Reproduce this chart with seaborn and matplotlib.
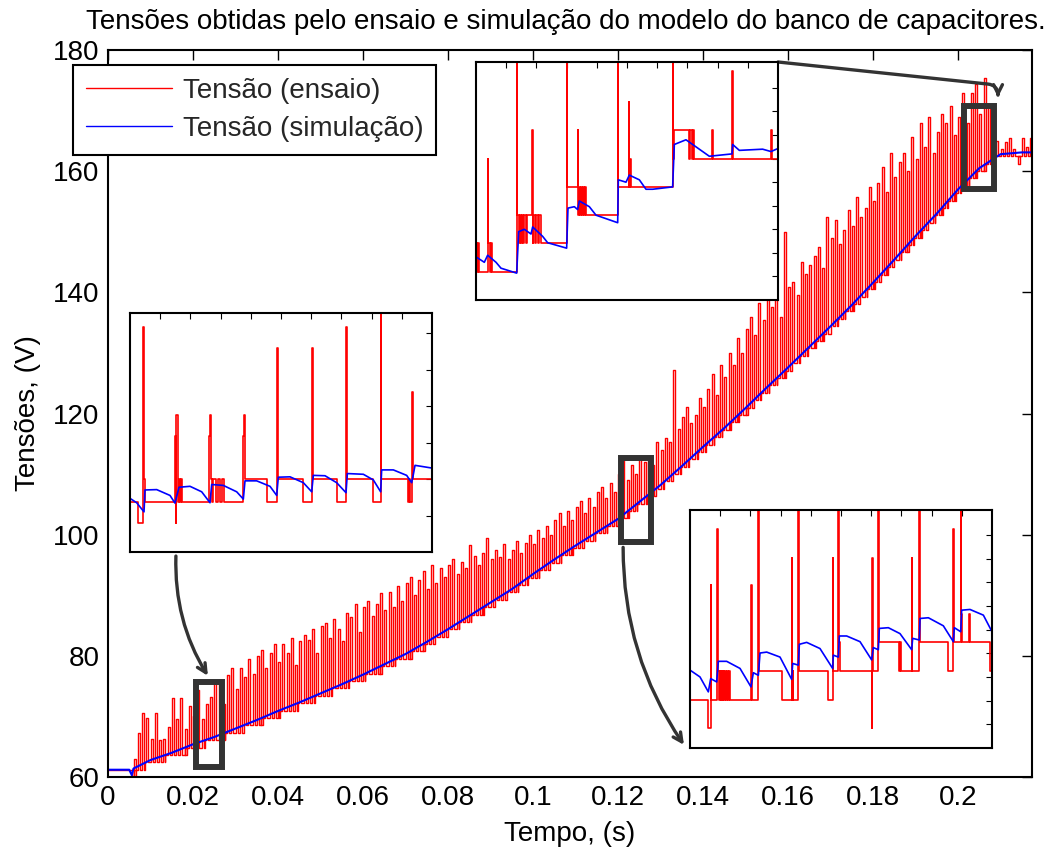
import numpy as np
import matplotlib
matplotlib.use("Agg")
import matplotlib.pyplot as plt
import seaborn as sns
from matplotlib.patches import Rectangle

# ---------------- dados ----------------
# Tensão simulada (curva azul), tempo em s
tempo_sim = [0.0, 0.005, 0.0056, 0.006, 0.010, 0.015, 0.020, 0.025, 0.030, 0.035,
             0.040, 0.045, 0.050, 0.055, 0.060, 0.065, 0.070, 0.075, 0.080, 0.085,
             0.090, 0.095, 0.100, 0.105, 0.110, 0.115, 0.120, 0.125, 0.130, 0.135,
             0.140, 0.145, 0.150, 0.155, 0.160, 0.165, 0.170, 0.175, 0.180, 0.185,
             0.190, 0.195, 0.200, 0.205, 0.210, 0.215, 0.2175]
tensao_sim = [61.2, 61.2, 60.3, 61.4, 62.8, 64.0, 65.4, 66.6, 68.0, 69.4,
              70.9, 72.3, 73.8, 75.3, 76.9, 78.6, 80.3, 82.3, 84.4, 86.6,
              88.8, 91.0, 93.5, 95.9, 98.2, 100.4, 102.6, 105.4, 108.2, 111.3,
              114.5, 117.6, 120.9, 124.3, 127.6, 131.0, 134.4, 137.9, 141.6, 145.4,
              149.3, 153.0, 157.0, 160.5, 162.8, 163.1, 163.1]

# Ensaio: níveis quantizados da base (instantes de mudança e nível)
degrau_t = [0.0, 0.0057, 0.0062, 0.0088, 0.0135, 0.0181, 0.0228, 0.0275, 0.0319, 0.0361,
            0.0402, 0.0446, 0.0487, 0.0527, 0.0567, 0.0605, 0.0641, 0.0676, 0.0711, 0.0741,
            0.0770, 0.0800, 0.0827, 0.0855, 0.0883, 0.0910, 0.0938, 0.0964, 0.0988, 0.1013,
            0.1039, 0.1065, 0.1091, 0.1119, 0.1146, 0.1174, 0.1201, 0.1223, 0.1245, 0.1267,
            0.1289, 0.1309, 0.1329, 0.1349, 0.1368, 0.1387, 0.1406, 0.1426, 0.1445, 0.1464,
            0.1483, 0.1501, 0.1519, 0.1537, 0.1555, 0.1574, 0.1592, 0.1610, 0.1628, 0.1646,
            0.1664, 0.1682, 0.1700, 0.1717, 0.1735, 0.1752, 0.1769, 0.1785, 0.1802, 0.1818,
            0.1834, 0.1850, 0.1865, 0.1881, 0.1897, 0.1913, 0.1929, 0.1946, 0.1962, 0.1977,
            0.1992, 0.2008, 0.2026, 0.2043, 0.2062, 0.2083, 0.2142, 0.2146]
degrau_v = [61.20, 59.98, 61.20, 62.42, 63.64, 64.86, 66.08, 67.30, 68.52, 69.74,
            70.96, 72.18, 73.40, 74.62, 75.84, 77.06, 78.28, 79.50, 80.72, 81.94,
            83.16, 84.38, 85.60, 86.82, 88.04, 89.26, 90.48, 91.70, 92.92, 94.14,
            95.36, 96.58, 97.80, 99.02, 100.24, 101.46, 102.68, 103.90, 105.12, 106.34,
            107.56, 108.78, 110.00, 111.22, 112.44, 113.66, 114.88, 116.10, 117.32, 118.54,
            119.76, 120.98, 122.20, 123.42, 124.64, 125.86, 127.08, 128.30, 129.52, 130.74,
            131.96, 133.18, 134.40, 135.62, 136.84, 138.06, 139.28, 140.50, 141.72, 142.94,
            144.16, 145.38, 146.60, 147.82, 149.04, 150.26, 151.48, 152.70, 153.92, 155.14,
            156.36, 157.58, 158.80, 160.02, 161.24, 162.46, 161.24, 162.46]

# Ensaio: picos (um a cada 1 ms, de 6 ms a 217 ms) - valor de topo de cada pico
pico_t = np.arange(6, 218) / 1000.0
pico_v = [63.0, 67.3, 70.6, 69.7, 66.2, 70.6, 66.1, 66.3, 68.2, 73.0,
          69.5, 73.0, 68.0, 71.8, 70.0, 74.3, 69.5, 72.0, 73.2, 75.5,
          76.0, 72.0, 76.8, 78.0, 74.5, 78.0, 76.5, 79.5, 77.0, 80.0,
          81.0, 78.0, 80.5, 82.0, 79.0, 82.0, 80.5, 83.0, 78.5, 82.5,
          83.5, 82.6, 84.5, 80.5, 85.0, 85.5, 83.0, 86.0, 84.5, 82.5,
          87.0, 86.4, 88.5, 84.0, 88.0, 89.0, 86.5, 88.5, 90.4, 87.5,
          90.5, 88.0, 91.5, 89.0, 92.0, 93.0, 90.0, 92.5, 94.0, 91.0,
          95.0, 92.0, 94.5, 93.0, 95.0, 96.0, 93.5, 95.5, 94.5, 98.3,
          96.5, 95.0, 97.0, 99.4, 96.0, 97.5, 96.3, 98.5, 96.0, 97.5,
          99.0, 97.0, 98.6, 100.0, 98.5, 100.7, 99.5, 101.5, 100.0, 102.5,
          103.5, 101.5, 103.9, 102.5, 104.5, 105.5, 103.5, 106.0, 104.5, 107.0,
          107.9, 106.0, 108.5, 107.0, 110.0, 112.3, 109.0, 111.5, 110.0, 112.5,
          112.0, 113.0, 111.5, 115.3, 114.0, 116.0, 115.3, 127.2, 117.5, 119.5,
          121.0, 118.5, 119.7, 122.5, 121.0, 124.0, 126.5, 123.0, 128.0, 126.0,
          130.0, 128.0, 132.5, 130.0, 134.0, 136.0, 133.0, 138.2, 135.5, 139.0,
          137.5, 140.0, 136.0, 150.0, 140.9, 141.7, 139.5, 145.0, 143.0, 144.5,
          146.0, 147.5, 144.0, 152.4, 149.0, 152.0, 148.0, 150.3, 153.6, 151.0,
          155.7, 152.5, 154.0, 157.4, 155.0, 158.0, 160.7, 156.5, 163.0, 159.0,
          161.5, 163.0, 160.0, 165.6, 162.0, 167.9, 164.0, 168.9, 163.0, 166.5,
          169.5, 167.9, 170.7, 166.0, 169.0, 172.9, 168.0, 172.9, 174.4, 169.5,
          175.4, 171.0, 164.0, 165.0, 163.7, 164.8, 165.4, 163.6, 162.5, 165.4,
          164.0, 165.4]

# Detalhes ampliados (tempo em ms, tensão em V)
insetA_ensaio = [(20.700, 64.76), (20.868, 64.76), (20.868, 63.57), (20.969, 63.57), (20.969, 74.35),
                 (20.983, 74.35), (20.983, 65.98), (21.010, 65.98), (21.010, 64.76), (21.609, 64.76),
                 (21.609, 68.36), (21.622, 68.36), (21.622, 63.57), (21.636, 63.57), (21.636, 69.50),
                 (21.663, 69.50), (21.663, 64.76), (21.690, 64.76), (21.690, 65.98), (21.710, 65.98),
                 (21.710, 64.76), (21.730, 64.76), (21.730, 65.98), (21.750, 65.98), (21.750, 64.76),
                 (22.302, 64.76), (22.302, 68.36), (22.316, 68.36), (22.316, 69.50), (22.329, 69.50),
                 (22.329, 65.98), (22.356, 65.98), (22.356, 64.76), (22.383, 64.76), (22.383, 65.98),
                 (22.430, 65.98), (22.430, 64.76), (22.470, 64.76), (22.470, 65.98), (22.520, 65.98),
                 (22.520, 64.76), (22.560, 64.76), (22.560, 65.98), (22.600, 65.98), (22.600, 64.76),
                 (22.989, 64.76), (22.989, 68.36), (23.002, 68.36), (23.002, 69.50), (23.016, 69.50),
                 (23.016, 65.98), (23.460, 65.98), (23.460, 64.76), (23.662, 64.76), (23.662, 73.16),
                 (23.683, 73.16), (23.683, 65.98), (24.201, 65.98), (24.201, 64.76), (24.370, 64.76),
                 (24.370, 73.16), (24.390, 73.16), (24.390, 65.98), (24.875, 65.98), (24.875, 64.76),
                 (25.063, 64.76), (25.063, 74.35), (25.083, 74.35), (25.083, 65.98), (25.615, 65.98),
                 (25.615, 64.76), (25.763, 64.76), (25.763, 76.00), (25.776, 76.00), (25.776, 65.98),
                 (26.322, 65.98), (26.322, 64.76), (26.340, 64.76), (26.340, 65.98), (26.360, 65.98),
                 (26.360, 64.76), (26.389, 64.76), (26.389, 69.50), (26.402, 69.50), (26.402, 70.78),
                 (26.423, 70.78), (26.423, 65.98), (26.800, 65.98)]
insetA_sim = [(20.700, 64.94), (20.835, 64.70), (20.983, 64.20), (21.003, 65.40), (21.239, 65.42),
              (21.508, 65.10), (21.609, 64.68), (21.643, 65.05), (21.690, 65.55), (21.912, 65.60),
              (22.148, 65.30), (22.316, 64.70), (22.350, 65.70), (22.585, 65.65), (22.855, 65.30),
              (22.989, 64.90), (23.023, 65.90), (23.259, 65.90), (23.528, 65.60), (23.663, 65.10),
              (23.696, 66.10), (23.932, 66.12), (24.201, 65.80), (24.370, 65.30), (24.403, 66.20),
              (24.639, 66.18), (24.874, 65.80), (25.063, 65.25), (25.090, 66.30), (25.413, 66.26),
              (25.615, 65.95), (25.763, 65.30), (25.783, 66.50), (26.019, 66.50), (26.288, 66.20),
              (26.389, 65.80), (26.423, 66.25), (26.457, 66.75), (26.800, 66.60)]

insetB_ensaio = [(201.500, 158.4), (201.530, 158.4), (201.530, 157.2), (201.550, 157.2), (201.550, 158.4),
                 (201.580, 158.4), (201.580, 157.2), (201.770, 157.2), (201.770, 162.0), (201.785, 162.0),
                 (201.785, 158.4), (201.820, 158.4), (201.820, 157.2), (201.850, 157.2), (201.850, 158.4),
                 (201.880, 158.4), (201.880, 157.2), (202.443, 157.2), (202.443, 167.0), (202.458, 167.0),
                 (202.458, 159.6), (202.490, 159.6), (202.490, 158.4), (202.510, 158.4), (202.510, 159.6),
                 (202.540, 159.6), (202.540, 158.4), (202.560, 158.4), (202.560, 159.6), (202.600, 159.6),
                 (202.600, 158.4), (202.620, 158.4), (202.620, 159.6), (202.660, 159.6), (202.660, 158.4),
                 (202.680, 158.4), (202.680, 159.6), (202.798, 159.6), (202.798, 163.2), (202.812, 163.2),
                 (202.812, 158.4), (202.830, 158.4), (202.830, 159.6), (202.870, 159.6), (202.870, 158.4),
                 (202.900, 158.4), (202.900, 159.6), (202.940, 159.6), (202.940, 158.4), (202.960, 158.4),
                 (202.960, 159.6), (203.000, 159.6), (203.000, 158.4), (203.601, 158.4), (203.601, 167.0),
                 (203.615, 167.0), (203.615, 160.8), (203.856, 160.8), (203.856, 163.2), (203.870, 163.2),
                 (203.870, 159.6), (203.890, 159.6), (203.890, 160.8), (203.910, 160.8), (203.910, 159.6),
                 (203.930, 159.6), (203.930, 160.8), (203.950, 160.8), (203.950, 159.6), (203.975, 159.6),
                 (203.975, 160.8), (204.000, 160.8), (204.000, 159.6), (204.025, 159.6), (204.025, 160.8),
                 (204.050, 160.8), (204.050, 159.6), (204.784, 159.6), (204.784, 167.0), (204.798, 167.0),
                 (204.798, 160.8), (205.039, 160.8), (205.039, 164.4), (205.052, 164.4), (205.052, 160.8),
                 (205.069, 160.8), (205.069, 162.0), (205.082, 162.0), (205.082, 160.8), (206.058, 160.8),
                 (206.058, 167.0), (206.072, 167.0), (206.072, 162.0), (206.100, 162.0), (206.100, 163.2),
                 (206.445, 163.2), (206.445, 162.0), (206.470, 162.0), (206.470, 163.2), (206.500, 163.2),
                 (206.500, 162.0), (206.530, 162.0), (206.530, 163.2), (206.560, 163.2), (206.560, 162.0),
                 (206.970, 162.0), (206.970, 163.2), (206.985, 163.2), (206.985, 162.0), (207.434, 162.0),
                 (207.434, 165.7), (207.448, 165.7), (207.448, 162.0), (208.338, 162.0), (208.338, 163.2),
                 (208.352, 163.2), (208.352, 162.0), (208.500, 162.0)]
insetB_sim = [(201.500, 157.83), (201.693, 157.60), (201.770, 157.90), (201.964, 157.60), (202.079, 157.35),
              (202.443, 157.14), (202.489, 158.90), (202.620, 159.00), (202.775, 158.80), (202.813, 159.10),
              (203.045, 158.70), (203.161, 158.43), (203.601, 158.20), (203.632, 159.90), (203.779, 159.96),
              (203.856, 159.84), (203.895, 160.20), (204.127, 159.96), (204.281, 159.60), (204.784, 159.28),
              (204.799, 161.10), (204.977, 161.00), (205.054, 161.30), (205.286, 161.10), (205.440, 160.70),
              (205.595, 160.70), (206.058, 160.80), (206.097, 162.60), (206.367, 162.80), (206.599, 162.50),
              (206.908, 162.10), (207.434, 162.20), (207.449, 162.60), (207.604, 162.35), (208.144, 162.40),
              (208.338, 162.30), (208.500, 162.43)]

insetC_ensaio = [(120.700, 102.03), (121.131, 102.03), (121.131, 100.83), (121.186, 100.83), (121.186, 106.88),
                 (121.200, 106.88), (121.200, 102.03), (121.343, 102.03), (121.343, 109.24), (121.357, 109.24),
                 (121.357, 103.25), (121.380, 103.25), (121.380, 102.03), (121.400, 102.03), (121.400, 103.25),
                 (121.420, 103.25), (121.420, 102.03), (121.440, 102.03), (121.440, 103.25), (121.465, 103.25),
                 (121.465, 102.03), (121.485, 102.03), (121.485, 103.25), (121.510, 103.25), (121.510, 102.03),
                 (121.530, 102.03), (121.530, 103.25), (121.555, 103.25), (121.555, 102.03), (121.575, 102.03),
                 (121.575, 103.25), (121.600, 103.25), (121.600, 102.03), (121.620, 102.03), (121.620, 103.25),
                 (121.650, 103.25), (121.650, 102.03), (122.134, 102.03), (122.134, 106.88), (122.148, 106.88),
                 (122.148, 102.03), (122.307, 102.03), (122.307, 111.00), (122.320, 111.00), (122.320, 103.25),
                 (122.855, 103.25), (122.855, 102.03), (123.090, 102.03), (123.090, 108.04), (123.104, 108.04),
                 (123.104, 102.03), (123.115, 102.03), (123.115, 103.25), (123.125, 103.25), (123.125, 102.03),
                 (123.247, 102.03), (123.247, 111.00), (123.260, 111.00), (123.260, 103.25), (123.952, 103.25),
                 (123.952, 102.03), (124.054, 102.03), (124.054, 108.04), (124.068, 108.04), (124.068, 103.25),
                 (124.188, 103.25), (124.188, 111.00), (124.200, 111.00), (124.200, 104.46), (124.220, 104.46),
                 (124.220, 103.25), (124.971, 103.25), (124.971, 100.83), (124.983, 100.83), (124.983, 108.04),
                 (124.995, 108.04), (124.995, 103.25), (125.128, 103.25), (125.128, 111.00), (125.140, 111.00),
                 (125.140, 104.46), (125.621, 104.46), (125.621, 103.25), (125.640, 103.25), (125.640, 104.46),
                 (125.660, 104.46), (125.660, 103.25), (125.912, 103.25), (125.912, 108.04), (125.926, 108.04),
                 (125.926, 103.25), (126.092, 103.25), (126.092, 111.00), (126.105, 111.00), (126.105, 104.46),
                 (126.773, 104.46), (126.773, 103.25), (126.891, 103.25), (126.891, 109.24), (126.905, 109.24),
                 (126.905, 104.46), (127.064, 104.46), (127.064, 111.00), (127.078, 111.00), (127.078, 105.64),
                 (127.100, 105.64), (127.100, 104.46), (127.267, 104.46), (127.267, 105.64), (127.290, 105.64),
                 (127.290, 104.46), (127.750, 104.46), (127.750, 103.25), (127.800, 103.25)]
insetC_sim = [(120.700, 103.29), (120.935, 103.00), (121.131, 102.37), (121.186, 102.93), (121.327, 102.79),
              (121.366, 103.66), (121.562, 103.66), (121.876, 103.36), (122.134, 102.58), (122.189, 103.18),
              (122.307, 103.07), (122.346, 104.01), (122.503, 104.05), (122.816, 103.84), (123.090, 102.90),
              (123.114, 103.57), (123.247, 103.50), (123.271, 104.38), (123.443, 104.46), (123.756, 104.20),
              (124.054, 103.36), (124.070, 103.92), (124.188, 103.84), (124.211, 104.73), (124.383, 104.73),
              (124.697, 104.49), (124.971, 103.72), (125.010, 104.24), (125.128, 104.15), (125.151, 105.05),
              (125.363, 105.08), (125.637, 104.83), (125.912, 104.15), (125.935, 104.63), (126.092, 104.56),
              (126.108, 105.47), (126.304, 105.50), (126.656, 105.16), (126.891, 104.49), (126.915, 105.08),
              (127.064, 104.91), (127.087, 105.82), (127.283, 105.85), (127.597, 105.61), (127.800, 104.91)]

x_ticks = [0.0, 0.02, 0.04, 0.06, 0.08, 0.10, 0.12, 0.14, 0.16, 0.18, 0.20]
x_tick_labels = ["0", "0.02", "0.04", "0.06", "0.08", "0.1", "0.12", "0.14", "0.16", "0.18", "0.2"]
y_ticks = [60, 80, 100, 120, 140, 160, 180]

# ---------------- estilo ----------------
sns.set_theme(style="white")
plt.rcParams["font.family"] = ["Liberation Sans", "DejaVu Sans"]
FS = 20
CINZA = "#333333"

fig = plt.figure(figsize=(10.53, 8.57), dpi=100)
ax = fig.add_axes([108 / 1053, 80 / 857, 924 / 1053, 727 / 857])
X_MAX = 0.2174

# sinal do ensaio: base quantizada + picos
LARG = 0.0005
ens_t, ens_v = [0.0], [degrau_v[0]]
eventos = [(t, 0, v) for t, v in zip(degrau_t[1:], degrau_v[1:])] + \
          [(t, 1, v) for t, v in zip(pico_t, pico_v)]
eventos.sort()
atual = degrau_v[0]
for t, tipo, v in eventos:
    if tipo == 0:
        ens_t += [t, t]
        ens_v += [atual, v]
        atual = v
    else:
        ens_t += [t, t, t + LARG, t + LARG]
        ens_v += [atual, v, v, atual]
ens_t.append(X_MAX)
ens_v.append(atual)

sns.lineplot(x=ens_t, y=ens_v, sort=False, estimator=None, color="#ff0000", lw=1.0,
             ax=ax, label="Tensão (ensaio)")
sns.lineplot(x=tempo_sim, y=tensao_sim, sort=False, estimator=None, color="#0000ff", lw=1.5,
             ax=ax, label="Tensão (simulação)")

ax.set_xlim(0, X_MAX)
ax.set_ylim(60, 180)
ax.set_xticks(x_ticks)
ax.set_xticklabels(x_tick_labels)
ax.set_yticks(y_ticks)
ax.tick_params(direction="in", length=7, width=1.0, top=True, right=True,
               labelsize=FS, colors="black", pad=6)
for s in ax.spines.values():
    s.set_visible(True)
    s.set_color("black")
    s.set_linewidth(1.5)
ax.set_xlabel("Tempo, (s)", fontsize=FS, color="black")
ax.set_ylabel("Tensões, (V)", fontsize=FS, color="black")
ax.xaxis.set_label_coords(0.5, -0.06)
ax.yaxis.set_label_coords(-0.072, 0.5)
fig.text(565.5 / 1053, 1 - 22 / 857, "Tensões obtidas pelo ensaio e simulação do modelo do banco de capacitores.",
         ha="center", va="center", fontsize=FS, color="black")

leg = ax.legend(loc="upper left", bbox_to_anchor=(73 / 1053, 1 - 65 / 857),
                bbox_transform=fig.transFigure, borderaxespad=0, fontsize=FS,
                handlelength=3.1, handletextpad=0.4, labelspacing=0.45, borderpad=0.45,
                fancybox=False, framealpha=1, edgecolor="black")
leg.get_frame().set_linewidth(1.5)
for ln in leg.get_lines():
    ln.set_linewidth(1.0)

# caixas de destaque
caixas = [((0.0207, 61.6), 0.0061, 14.0), ((0.1207, 98.8), 0.0071, 13.8), ((0.2015, 157.0), 0.0070, 13.8)]
for (x0, y0), w, h in caixas:
    ax.add_patch(Rectangle((x0, y0), w, h, fill=False, ec=CINZA, lw=4.3, zorder=6))


def inset(rect, ens, sim, xlim, ylim, yticks):
    ia = fig.add_axes(rect)
    ia.set_facecolor("white")
    et, ev = zip(*ens)
    st, sv = zip(*sim)
    sns.lineplot(x=np.array(et) / 1000, y=list(ev), sort=False, estimator=None, color="#ff0000",
                 lw=1.2, ax=ia, legend=False)
    sns.lineplot(x=np.array(st) / 1000, y=list(sv), sort=False, estimator=None, color="#0000ff",
                 lw=1.2, ax=ia, legend=False)
    ia.set_xlim(xlim)
    ia.set_ylim(ylim)
    ia.set_xticks(np.linspace(xlim[0], xlim[1], 11)[1:-1])
    ia.set_yticks(yticks)
    ia.tick_params(direction="in", length=4, width=0.8, top=True, right=True,
                   labelbottom=False, labelleft=False, colors="black")
    ia.set_xlabel("")
    ia.set_ylabel("")
    for s in ia.spines.values():
        s.set_visible(True)
        s.set_color("black")
        s.set_linewidth(1.5)
    return ia


insA = inset([130 / 1053, 1 - 552 / 857, 302 / 1053, 239 / 857], insetA_ensaio, insetA_sim,
             (0.0207, 0.0268), (62.0, 75.1), [64, 66, 68, 70, 72, 74])
insB = inset([476 / 1053, 1 - 300 / 857, 302 / 1053, 238 / 857], insetB_ensaio, insetB_sim,
             (0.2015, 0.2085), (156.0, 166.1), list(range(157, 166)))
insC = inset([690 / 1053, 1 - 748 / 857, 302 / 1053, 238 / 857], insetC_ensaio, insetC_sim,
             (0.1207, 0.1278), (100.0, 110.05), list(range(101, 110)))

seta = dict(arrowstyle="->", color=CINZA, lw=2.4, shrinkA=0, shrinkB=0, mutation_scale=16)
ax.annotate("", xy=(0.0235, 76.7), xycoords="data", xytext=(0.152, -0.017),
            textcoords=insA.transAxes, annotation_clip=False,
            arrowprops=dict(seta, connectionstyle="arc3,rad=0.15"))
ax.annotate("", xy=(-0.02, 0.013), xycoords=insC.transAxes, xytext=(0.1212, 97.9),
            textcoords="data", annotation_clip=False,
            arrowprops=dict(seta, connectionstyle="arc3,rad=0.155"))
ax.annotate("", xy=(0.2094, 172.2), xycoords="data", xytext=(1.0, 1.0),
            textcoords=insB.transAxes, annotation_clip=False,
            arrowprops=dict(seta, connectionstyle="angle,angleA=-6,angleB=90,rad=10"))

fig.savefig("out.png", dpi=100)
